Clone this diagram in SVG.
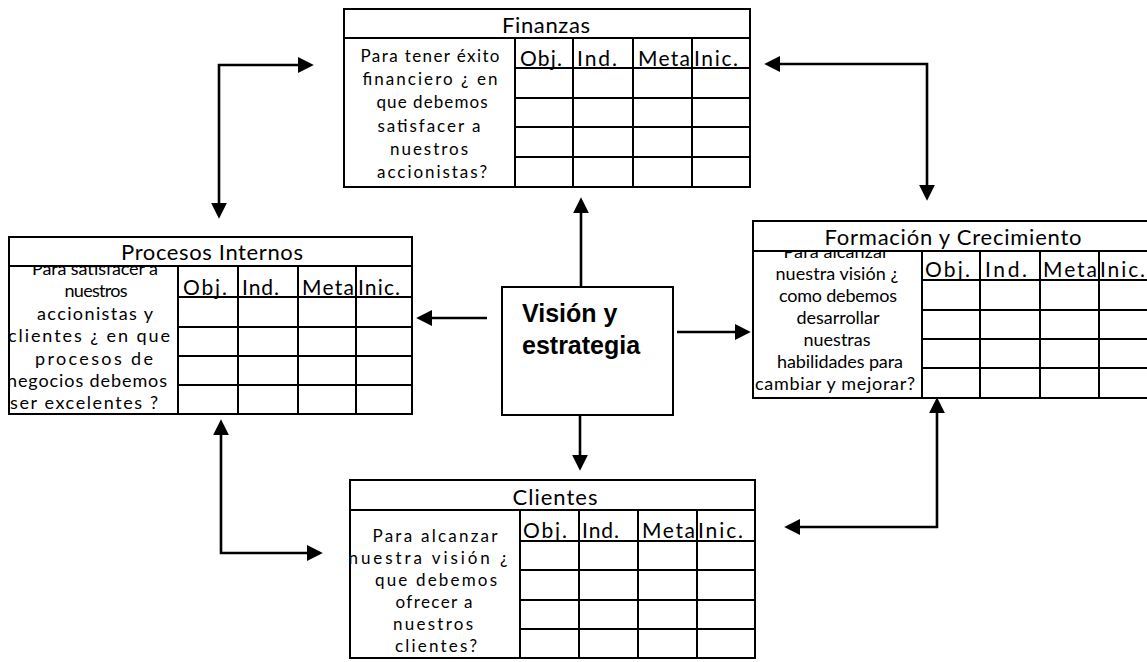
<svg xmlns="http://www.w3.org/2000/svg" width="1147" height="662" viewBox="0 0 1147 662">
<style>
.box{fill:#fff;stroke:#000;stroke-width:2}
.ttl{fill:#fff;stroke:#000;stroke-width:2}
.grid{stroke:#000;stroke-width:2;fill:none}
.t{font-family:Lato,"Liberation Sans",Arial,sans-serif;fill:#000}
.title{font-size:22px;text-anchor:middle}
.hd{font-size:21px}
.body{font-size:17px;text-anchor:middle}
.big{font-size:18px}
.ctr{font-family:"Liberation Sans",Arial,sans-serif;font-weight:bold;font-size:25px;fill:#000}
.con{stroke:#000;stroke-width:2.6;fill:none;marker-end:url(#ah)}
.con2{stroke:#000;stroke-width:2.6;fill:none;marker-start:url(#ahs);marker-end:url(#ah)}
</style>
<defs>
<marker id="ah" markerUnits="userSpaceOnUse" markerWidth="16" markerHeight="16" viewBox="0 0 15 15" refX="3" refY="7.5" orient="auto"><path d="M0,0 L15,7.5 L0,15 z" fill="#000"/></marker>
<marker id="ahs" markerUnits="userSpaceOnUse" markerWidth="16" markerHeight="16" viewBox="0 0 15 15" refX="3" refY="7.5" orient="auto-start-reverse"><path d="M0,0 L15,7.5 L0,15 z" fill="#000"/></marker>
<clipPath id="cpP"><rect x="9" y="267" width="169" height="147"/></clipPath>
<clipPath id="cpF"><rect x="753" y="252" width="169" height="146"/></clipPath>
</defs>

<g id="finanzas">
<rect class="box" x="344" y="9" width="406" height="178"/>
<g class="t body">
<text x="430" y="62" textLength="139" lengthAdjust="spacing">Para tener éxito</text>
<text x="430" y="85" textLength="135" lengthAdjust="spacing">financiero ¿ en</text>
<text x="432" y="108" textLength="111" lengthAdjust="spacing">que debemos</text>
<text x="429" y="132" textLength="103" lengthAdjust="spacing">satisfacer a</text>
<text x="429" y="155" textLength="78" lengthAdjust="spacing">nuestros</text>
<text x="432" y="178" textLength="110" lengthAdjust="spacing">accionistas?</text>
</g>
<rect class="ttl" x="344" y="9" width="406" height="29"/>
<text class="t title" x="546" y="33" textLength="88" lengthAdjust="spacing">Finanzas</text>
<path class="grid" d="M515,38V187M573,38V187M633,38V187M692,38V187M515,68H750M515,98H750M515,127H750M515,157H750"/>
<g class="t hd">
<text x="520" y="66" textLength="42" lengthAdjust="spacing">Obj.</text>
<text x="577" y="66" textLength="40" lengthAdjust="spacing">Ind.</text>
<text x="638" y="66" textLength="52" lengthAdjust="spacing">Meta</text>
<text x="694" y="66" textLength="44" lengthAdjust="spacing">Inic.</text>
</g>
</g>

<g id="procesos">
<rect class="box" x="9" y="237" width="403" height="177"/>
<g class="t body big" clip-path="url(#cpP)">
<text x="95" y="275" textLength="126" lengthAdjust="spacing">Para satisfacer a</text>
<text x="96" y="297" textLength="63" lengthAdjust="spacing">nuestros</text>
<text x="95" y="320" textLength="116" lengthAdjust="spacing">accionistas y</text>
<text x="89" y="342" textLength="162" lengthAdjust="spacing">clientes ¿ en que</text>
<text x="94" y="365" textLength="118" lengthAdjust="spacing">procesos de</text>
<text x="87" y="387" textLength="160" lengthAdjust="spacing">negocios debemos</text>
<text x="84" y="409" textLength="148" lengthAdjust="spacing">ser excelentes ?</text>
</g>
<rect class="ttl" x="9" y="237" width="403" height="29"/>
<text class="t title" x="212" y="260" textLength="182" lengthAdjust="spacing">Procesos Internos</text>
<path class="grid" d="M178,266V414M238,266V414M298,266V414M356,266V414M178,297H412M178,327H412M178,356H412M178,385H412"/>
<g class="t hd">
<text x="183" y="295" textLength="44" lengthAdjust="spacing">Obj.</text>
<text x="242" y="295" textLength="37" lengthAdjust="spacing">Ind.</text>
<text x="302" y="295" textLength="52" lengthAdjust="spacing">Meta</text>
<text x="358" y="295" textLength="42" lengthAdjust="spacing">Inic.</text>
</g>
</g>

<g id="formacion">
<rect class="box" x="753" y="221" width="400" height="177"/>
<g class="t body big" clip-path="url(#cpF)">
<text x="836" y="258" textLength="105" lengthAdjust="spacing">Para alcanzar</text>
<text x="837" y="280" textLength="123" lengthAdjust="spacing">nuestra visión ¿</text>
<text x="838" y="302" textLength="118" lengthAdjust="spacing">como debemos</text>
<text x="838" y="324" textLength="83" lengthAdjust="spacing">desarrollar</text>
<text x="837" y="346" textLength="67" lengthAdjust="spacing">nuestras</text>
<text x="840" y="368" textLength="126" lengthAdjust="spacing">habilidades para</text>
<text x="835" y="390" textLength="160" lengthAdjust="spacing">cambiar y mejorar?</text>
</g>
<rect class="ttl" x="753" y="221" width="400" height="30"/>
<text class="t title" x="953" y="245" textLength="257" lengthAdjust="spacing">Formación y Crecimiento</text>
<path class="grid" d="M922,251V398M980,251V398M1040,251V398M1099,251V398M922,280H1150M922,310H1150M922,339H1150M922,368H1150"/>
<g class="t hd">
<text x="925" y="277" textLength="45" lengthAdjust="spacing">Obj.</text>
<text x="985" y="277" textLength="42" lengthAdjust="spacing">Ind.</text>
<text x="1043" y="277" textLength="54" lengthAdjust="spacing">Meta</text>
<text x="1100" y="277" textLength="45" lengthAdjust="spacing">Inic.</text>
</g>
</g>

<g id="clientes">
<rect class="box" x="350" y="480" width="405" height="178"/>
<g class="t body">
<text x="435" y="542" textLength="125" lengthAdjust="spacing">Para alcanzar</text>
<text x="428" y="564" textLength="159" lengthAdjust="spacing">nuestra visión ¿</text>
<text x="436" y="586" textLength="122" lengthAdjust="spacing">que debemos</text>
<text x="434" y="608" textLength="77" lengthAdjust="spacing">ofrecer a</text>
<text x="433" y="630" textLength="80" lengthAdjust="spacing">nuestros</text>
<text x="436" y="652" textLength="82" lengthAdjust="spacing">clientes?</text>
</g>
<rect class="ttl" x="350" y="480" width="405" height="30"/>
<text class="t title" x="555" y="505" textLength="85" lengthAdjust="spacing">Clientes</text>
<path class="grid" d="M520,510V658M579,510V658M638,510V658M697,510V658M520,541H755M520,570H755M520,600H755M520,629H755"/>
<g class="t hd">
<text x="523" y="538" textLength="44" lengthAdjust="spacing">Obj.</text>
<text x="582" y="538" textLength="37" lengthAdjust="spacing">Ind.</text>
<text x="642" y="538" textLength="53" lengthAdjust="spacing">Meta</text>
<text x="698" y="538" textLength="45" lengthAdjust="spacing">Inic.</text>
</g>
</g>

<g id="vision">
<rect class="box" x="502" y="287" width="171" height="128"/>
<text class="ctr" x="522" y="322">Visión y</text>
<text class="ctr" x="522" y="354">estrategia</text>
</g>

<g id="connectors">
<path class="con" d="M581,287V210"/>
<path class="con" d="M580,415V458"/>
<path class="con" d="M487,318H429"/>
<path class="con" d="M677,332H738"/>
<path class="con2" d="M219,206V65H301"/>
<path class="con2" d="M777,64H927V188"/>
<path class="con2" d="M221,432V553H310"/>
<path class="con2" d="M937,410V527H797"/>
</g>
</svg>
